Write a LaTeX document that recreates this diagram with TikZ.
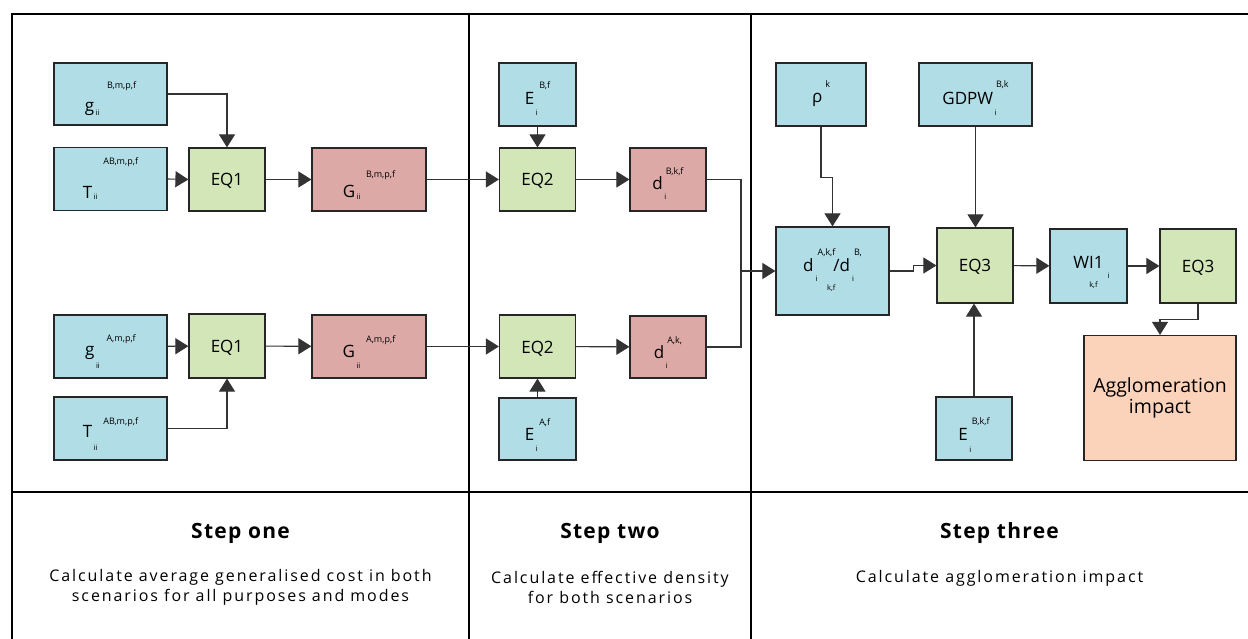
\documentclass[tikz,border=0pt]{standalone}
\usepackage{fontspec}
\setmainfont{Open Sans}
\newfontfamily\titlefont[LetterSpace=6]{Open Sans}
\newfontfamily\lowfont[LetterSpace=12]{Open Sans}
\usetikzlibrary{arrows.meta}

\definecolor{inblue}{HTML}{B1DDE6}
\definecolor{eqgreen}{HTML}{D3E6B8}
\definecolor{outred}{HTML}{DCA9A6}
\definecolor{aggorange}{HTML}{FBD3BB}

\newcommand{\bigsz}{\fontsize{17}{17}\selectfont}
\newcommand{\supsz}{\fontsize{9}{9}\selectfont}
\newcommand{\subsz}{\fontsize{7.5}{7.5}\selectfont}
% main letter, superscript, subscript, raise, drop, gap
\newcommand{\vlab}[6]{\bigsz #1\rlap{\hspace{1.5pt}\raisebox{-#5pt}{\subsz #3}}\hspace{#6pt}\raisebox{#4pt}{\supsz #2}}

\tikzset{
  box/.style={draw=black!85,line width=1.2pt,inner sep=0pt},
  inbox/.style={box,fill=inblue,text height=20pt,text depth=0pt},
  outbox/.style={box,fill=outred,text height=20pt,text depth=0pt},
  eqbox/.style={box,fill=eqgreen,minimum width=76pt,font=\bigsz,text height=13pt,text depth=0pt},
  link/.style={draw=black!80,line width=1.1pt,-{Triangle[length=13pt,width=16pt]}},
  wire/.style={draw=black!80,line width=1.1pt},
  frame/.style={line width=2.4pt},
  steptitle/.style={font=\titlefont\bfseries\fontsize{21}{21}\selectfont},
  steptext/.style={font=\lowfont\fontsize{16}{20}\selectfont,align=center}
}

\begin{document}
\begin{tikzpicture}[x=1pt,y=-1pt]
  \useasboundingbox (0,0) rectangle (1248,639);
  \draw[frame] (1250,14) -- (12,14) -- (12,641);
  \draw[frame] (469,14) -- (469,641);
  \draw[frame] (751,14) -- (751,641);
  \draw[frame] (12,492) -- (1250,492);

  \node[inbox,minimum width=113pt,minimum height=62pt,text height=36pt] (gB) at (110.5,94) {\vlab{g}{B,m,p,f}{ii}{23}{4}{13}};
  \node[inbox,minimum width=113pt,minimum height=63pt,text height=40pt] (Tt) at (110.5,179) {\vlab{T}{AB,m,p,f}{ii}{34}{1}{11}};
  \node[eqbox,minimum height=63pt] (eq1t) at (227,179.5) {EQ1};
  \node[outbox,minimum width=114pt,minimum height=63pt,text height=37pt] (Gt) at (369,179.5) {\vlab{G}{B,m,p,f}{ii}{20}{2}{11}};

  \node[inbox,minimum width=113pt,minimum height=63pt,text height=17pt] (gA) at (110.5,346.5) {\vlab{g}{A,m,p,f}{ii}{14}{13}{12}};
  \node[eqbox,minimum height=64pt] (eq1b) at (227,346) {EQ1};
  \node[outbox,minimum width=114pt,minimum height=63pt,text height=21pt] (Gb) at (369,346.5) {\vlab{G}{A,m,p,f}{ii}{15}{11}{11}};
  \node[inbox,minimum width=113pt,minimum height=63pt,text height=17pt] (Tb) at (110.5,428.5) {\vlab{T}{AB,m,p,f}{ii}{13}{13}{11}};

  \node[inbox,minimum width=77pt,minimum height=63pt,text height=21pt] (Et) at (537.5,94.5) {\vlab{E}{B,f}{i}{16}{11}{5}};
  \node[eqbox,minimum height=63pt] (eq2t) at (537.5,179.5) {EQ2};
  \node[outbox,minimum width=76pt,minimum height=63pt,text height=21pt] (dt) at (668,179.5) {\vlab{d}{B,k,f}{i}{15}{10}{3}};

  \node[eqbox,minimum height=63pt] (eq2b) at (537.5,346.5) {EQ2};
  \node[outbox,minimum width=76pt,minimum height=62pt,text height=22pt] (db) at (668,347) {\vlab{d}{A,k,}{i}{15}{10}{3}};
  \node[inbox,minimum width=77pt,minimum height=62pt,text height=22pt] (Eb) at (537.5,429) {\vlab{E}{A,f}{i}{15}{11}{5}};

  \node[inbox,minimum width=90pt,minimum height=63pt,text height=17pt] (rho) at (821,94.5) {\vlab{ρ}{k}{}{15}{0}{3}};
  \node[inbox,minimum width=113pt,minimum height=63pt,text height=21pt] (gdpw) at (975.5,94.5) {\vlab{GDPW}{B,k}{i}{17}{11}{3}};
  \node[inbox,minimum width=113pt,minimum height=88pt,text height=12pt,text depth=10pt] (ratio) at (832.5,271)
    {\bigsz d\rlap{\hspace{2pt}\raisebox{-10pt}{\subsz i}}\hspace{4pt}\raisebox{17pt}{\supsz A,k,f}\llap{\raisebox{-19pt}{\subsz k,f}}\hspace{-2pt}/d\rlap{\hspace{2pt}\raisebox{-10pt}{\subsz i}}\hspace{4pt}\raisebox{17pt}{\supsz B,}};
  \node[eqbox,minimum height=75pt] (eq3) at (975,265.5) {EQ3};
  \node[inbox,minimum width=76pt,minimum height=63pt,text height=23pt] (Ebkf) at (974,428.5) {\vlab{E}{B,k,f}{i}{16}{12}{4}};
  \node[inbox,minimum width=77pt,minimum height=74pt,text height=12pt,text depth=6pt] (wi) at (1088.5,266)
    {\bigsz WI1\rlap{\hspace{4pt}\raisebox{-10pt}{\subsz i}}\llap{\raisebox{-19pt}{\subsz k,f}\hspace{6pt}}};
  \node[eqbox,minimum height=74pt] (eq3r) at (1198,266) {EQ3};
  \node[box,fill=aggorange,minimum width=152pt,minimum height=125pt,align=center,font=\fontsize{19.5}{21}\selectfont] (agg) at (1160,398) {Agglomeration\\impact};

  \draw[link] (gB.east) -| (eq1t.north);
  \draw[link] (Tt.east) -- (eq1t.west);
  \draw[link] (eq1t) -- (Gt);
  \draw[link] (Gt) -- (eq2t);
  \draw[link] (Et) -- (eq2t);
  \draw[link] (eq2t) -- (dt);
  \draw[link] (gA) -- (eq1b);
  \draw[link] (Tb.east) -| (eq1b.south);
  \draw[link] (eq1b) -- (Gb);
  \draw[link] (Gb) -- (eq2b);
  \draw[link] (Eb) -- (eq2b);
  \draw[link] (eq2b) -- (db);
  \coordinate (join) at (741,271);
  \draw[wire] (dt.east) -| (join);
  \draw[wire] (db.east) -| (join);
  \draw[link] (join) -- (ratio.west);
  \draw[link] (rho.south) -- ++(0,51) -| (ratio.north);
  \draw[link] (ratio.east) -- ++(24,0) |- (eq3.west);
  \draw[link] (gdpw.south) -- (gdpw.south |- eq3.north);
  \draw[link] (Ebkf.north) -- (Ebkf.north |- eq3.south);
  \draw[link] (eq3) -- (wi);
  \draw[link] (wi) -- (eq3r);
  \draw[link] (eq3r.south) -- ++(0,16) -| (agg.north);

  \node[steptitle] (stepone) at (240.5,533) {Step one};
  \node[steptext] (textone) at (240.5,587.5) {Calculate average generalised cost in both\\scenarios for all purposes and modes};
  \node[steptitle] (steptwo) at (610,533) {Step two};
  \node[steptext] (texttwo) at (610,587.5) {Calculate effective density\\for both scenarios};
  \node[steptitle] (stepthree) at (999.5,533) {Step three};
  \node[steptext] (textthree) at (999.5,578) {Calculate agglomeration impact};
\end{tikzpicture}
\end{document}
